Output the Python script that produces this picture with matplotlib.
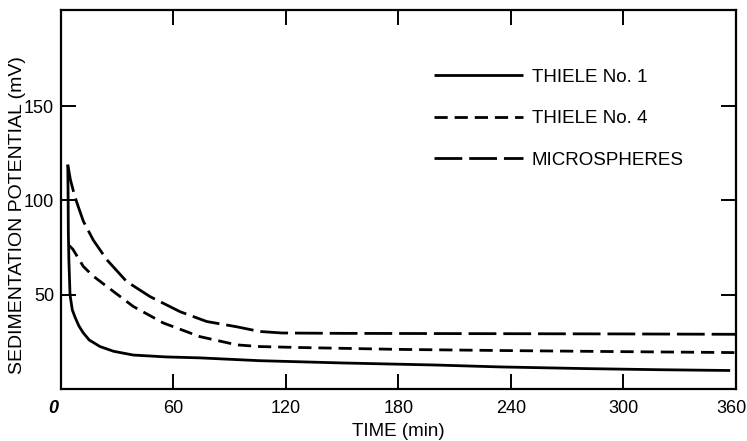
import matplotlib
matplotlib.use("Agg")
import matplotlib.pyplot as plt
from matplotlib.transforms import ScaledTranslation

# ---- data ----
t_thiele1 = [3.6, 3.8, 3.9, 4.2, 4.8, 6.0, 7.5, 9.5, 11.7, 15.0, 20.8, 28.0, 38.5, 56.0, 74.0, 106.0, 150.0, 200.0, 234.0, 280.0, 320.0, 357.0]
v_thiele1 = [119.0, 100.0, 83.0, 68.0, 50.0, 42.0, 38.0, 33.5, 30.0, 26.0, 22.5, 20.0, 18.0, 17.0, 16.5, 15.0, 13.8, 12.7, 11.7, 10.8, 10.2, 9.8]

t_thiele4 = [4.5, 6.4, 11.9, 17.0, 24.4, 38.5, 54.6, 74.0, 93.7, 106.0, 127.0, 180.0, 234.0, 300.0, 360.0]
v_thiele4 = [76.0, 74.0, 65.0, 60.0, 54.4, 43.8, 35.0, 27.8, 23.4, 22.5, 22.0, 21.0, 20.4, 19.8, 19.3]

t_micro = [3.6, 5.0, 6.6, 8.4, 11.9, 17.2, 24.4, 35.0, 47.5, 63.5, 77.7, 93.7, 106.0, 118.0, 150.0, 200.0, 250.0, 300.0, 360.0]
v_micro = [119.0, 111.0, 105.0, 99.0, 89.0, 79.0, 68.6, 57.0, 49.0, 41.0, 35.8, 33.0, 30.5, 29.7, 29.5, 29.4, 29.3, 29.2, 29.0]

labels = ["THIELE No. 1", "THIELE No. 4", "MICROSPHERES"]
x_ticks = [0, 60, 120, 180, 240, 300, 360]
x_ticklabels = ["0", "60", "120", "180", "240", "300", "360"]
y_ticks = [50, 100, 150]
y_ticklabels = ["50", "100", "150"]

# ---- style ----
plt.rcParams["font.family"] = ["Liberation Sans", "DejaVu Sans"]
plt.rcParams["lines.scale_dashes"] = False

fig = plt.figure(figsize=(7.47, 4.41), dpi=100)
ax = fig.add_axes([0.0817, 0.118, 0.9033, 0.859])

lw = 2.0
l1, = ax.plot(t_thiele1, v_thiele1, color="black", lw=lw, solid_capstyle="butt")
l4, = ax.plot(t_thiele4, v_thiele4, color="black", lw=lw, dashes=(9.5, 5.0))
lm, = ax.plot(t_micro, v_micro, color="black", lw=lw, dashes=(20.0, 5.0))

ax.set_xlim(0, 360)
ax.set_ylim(0, 201)

ax.set_xticks(x_ticks)
ax.set_xticklabels(x_ticklabels)
ax.set_yticks(y_ticks)
ax.set_yticklabels(y_ticklabels)

ax.tick_params(direction="in", length=10.5, width=1.4, top=True, right=True,
               labelsize=13, pad=5, colors="black")
ax.tick_params(axis="x", pad=8)
xl = ax.get_xticklabels()
xl[0].set_fontstyle("italic")
xl[0].set_fontweight("bold")
xl[0].set_transform(xl[0].get_transform() + ScaledTranslation(-8 / 100, 0, fig.dpi_scale_trans))
xl[-1].set_transform(xl[-1].get_transform() + ScaledTranslation(-4 / 100, 0, fig.dpi_scale_trans))

for s in ax.spines.values():
    s.set_linewidth(1.6)

ax.set_xlabel("TIME (min)", fontsize=13.5, labelpad=4)
ax.set_ylabel("SEDIMENTATION POTENTIAL (mV)", fontsize=14)
ax.yaxis.set_label_coords(-0.052, 0.46)

leg = ax.legend([l1, l4, lm], labels, loc="upper left", bbox_to_anchor=(0.527, 0.89),
                frameon=False, handlelength=4.75, handletextpad=0.5,
                labelspacing=1.3, prop={"size": 13.5})

fig.savefig("out.png", dpi=100)
